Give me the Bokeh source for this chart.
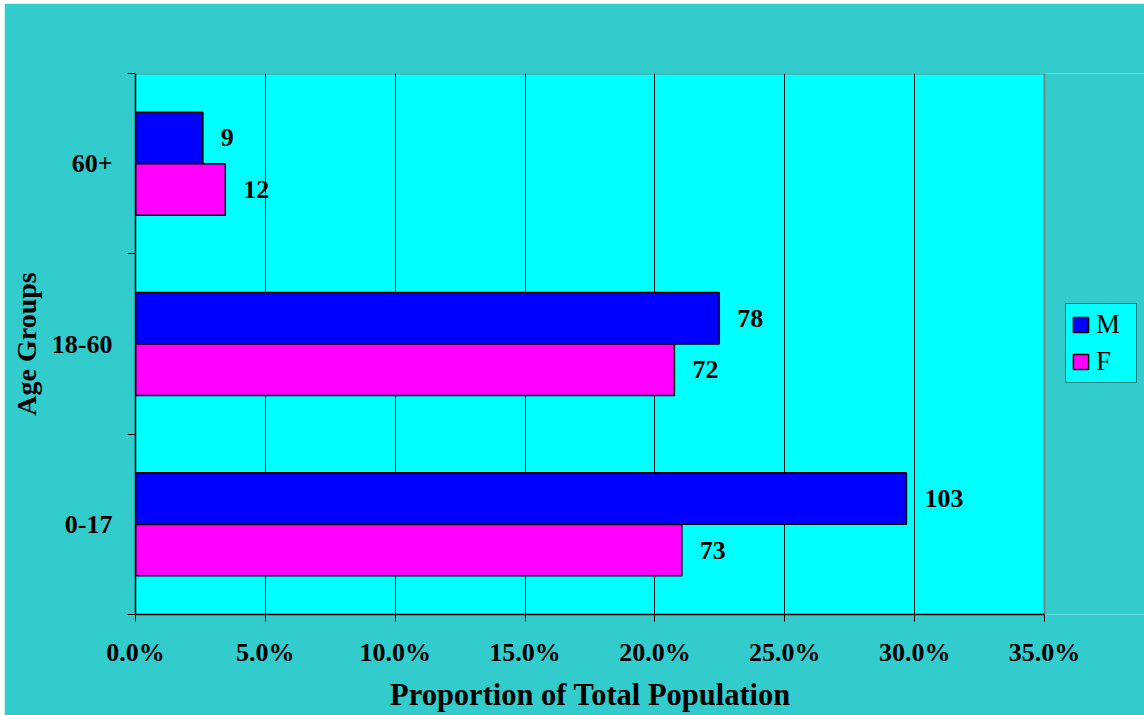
from bokeh.plotting import figure
from bokeh.models import (ColumnDataSource, FixedTicker, NumeralTickFormatter, LabelSet,
                          Legend, LegendItem, Range1d, BoxAnnotation)
from bokeh.embed import file_html
from bokeh.resources import INLINE

# ---- data ----
age_groups = ["0-17", "18-60", "60+"]
male_counts = [103, 78, 9]
female_counts = [73, 72, 12]
series_names = ["M", "F"]
series_colors = ["#0000FF", "#FF00FF"]
x_ticks = [0.0, 0.05, 0.10, 0.15, 0.20, 0.25, 0.30, 0.35]

total = sum(male_counts) + sum(female_counts)
male_prop = [c / total for c in male_counts]
female_prop = [c / total for c in female_counts]

centers = [i + 0.5 for i in range(len(age_groups))]
off = 0.143
bar_h = 0.285

src_m = ColumnDataSource(dict(y=[c + off for c in centers], x=male_prop,
                              lbl=[str(v) for v in male_counts]))
src_f = ColumnDataSource(dict(y=[c - off for c in centers], x=female_prop,
                              lbl=[str(v) for v in female_counts]))

FONT = "Liberation Serif"
BG = "#33CCCC"

# plot area spans 909 px for 0..35%; the frame is widened to the right edge
# so that the legend can sit beside the plot area
x_max = x_ticks[-1]
y_max = len(age_groups)
frame_w = 1009
x_end = x_max * frame_w / 909

p = figure(width=1140, height=712, output_backend="svg", toolbar_location=None,
           x_range=Range1d(0, x_end), y_range=Range1d(0, y_max),
           min_border_left=131, min_border_right=0, min_border_top=70, min_border_bottom=101)
p.margin = (3, 0, 0, 4)
p.background_fill_color = BG
p.border_fill_color = BG
p.outline_line_color = None

plot_area = BoxAnnotation(left=0, right=x_max, fill_color="#00FFFF", fill_alpha=1,
                          line_color=None, level="image")
p.add_layout(plot_area)

# gray top and right border of the plot area
p.segment(x0=[0, x_max], y0=[y_max, 0], x1=[x_max, x_max], y1=[y_max, y_max],
          line_color="#808080", line_width=2, level="underlay")

rm = p.hbar(y="y", right="x", left=0, height=bar_h, source=src_m,
            fill_color=series_colors[0], line_color="black", line_width=1.5)
rf = p.hbar(y="y", right="x", left=0, height=bar_h, source=src_f,
            fill_color=series_colors[1], line_color="black", line_width=1.5)

for s in (src_m, src_f):
    p.add_layout(LabelSet(x="x", y="y", text="lbl", source=s, x_offset=18,
                          text_align="left", text_baseline="middle",
                          text_font=FONT, text_font_style="bold",
                          text_font_size="26px", text_color="black"))

# x axis (label padded on the right so it centres under the plot area)
p.xaxis.ticker = FixedTicker(ticks=x_ticks)
p.xaxis.bounds = (0, x_max)
p.xaxis.formatter = NumeralTickFormatter(format="0.0%")
p.xaxis.axis_label = "Proportion of Total Population" + "\u00a0" * 13
p.xaxis.major_tick_out = 7
p.xaxis.major_tick_in = 0
p.xaxis.minor_tick_line_color = None
p.xaxis.major_label_standoff = 16
p.xaxis.axis_label_standoff = 8

# y axis
p.yaxis.ticker = FixedTicker(ticks=centers, minor_ticks=[0, 1, 2, 3])
p.yaxis.major_label_overrides = {c: g for c, g in zip(centers, age_groups)}
p.yaxis.axis_label = "Age Groups"
p.yaxis.major_tick_out = 0
p.yaxis.major_tick_in = 0
p.yaxis.minor_tick_out = 8
p.yaxis.minor_tick_in = 0
p.yaxis.major_label_standoff = 15
p.yaxis.axis_label_standoff = 7

for ax in (p.xaxis, p.yaxis):
    ax.axis_line_color = "black"
    ax.axis_line_width = 1.5
    ax.major_tick_line_color = "black"
    ax.major_label_text_font = FONT
    ax.major_label_text_font_style = "bold"
    ax.major_label_text_font_size = "26px"
    ax.major_label_text_color = "black"
    ax.axis_label_text_font = FONT
    ax.axis_label_text_font_style = "bold"
    ax.axis_label_text_color = "black"
p.xaxis.axis_label_text_font_size = "30.5px"
p.yaxis.axis_label_text_font_size = "28px"
p.yaxis.minor_tick_line_color = "black"

p.xgrid.ticker = FixedTicker(ticks=x_ticks[1:-1])
p.xgrid.grid_line_color = "#1a1a1a"
p.xgrid.grid_line_width = 1
p.ygrid.grid_line_color = None

legend = Legend(items=[LegendItem(label=series_names[0], renderers=[rm]),
                       LegendItem(label=series_names[1], renderers=[rf])],
                location=(930, 231), orientation="vertical")
legend.background_fill_color = "#00FFFF"
legend.background_fill_alpha = 1
legend.border_line_color = "black"
legend.border_line_width = 1
legend.label_text_font = FONT
legend.label_text_font_size = "27px"
legend.label_text_color = "black"
legend.glyph_width = 19
legend.glyph_height = 19
legend.label_height = 26
legend.label_width = 35
legend.label_standoff = 6
legend.spacing = 6
legend.padding = 5
legend.margin = 0
p.add_layout(legend, "center")

open("out.html", "w").write(file_html(p, INLINE))
